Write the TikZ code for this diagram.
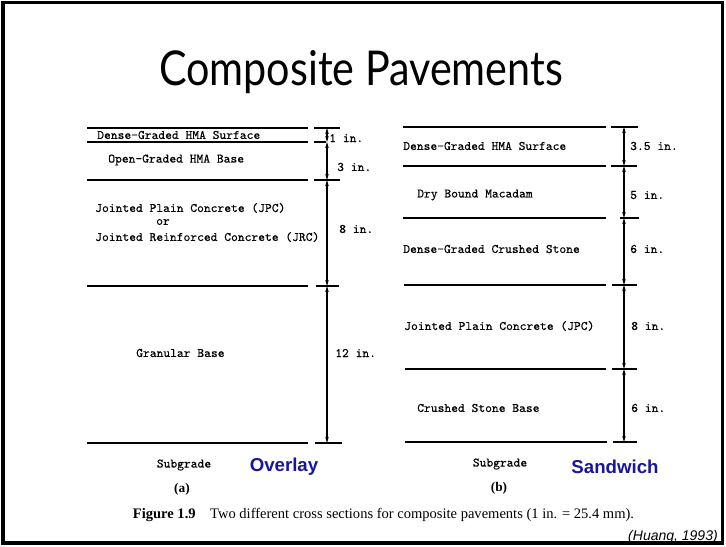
\documentclass[tikz,border=0pt]{standalone}
\usepackage{fontspec}
\setmainfont{Liberation Serif}
\setsansfont{Liberation Sans}
\newfontfamily\titlefont{Lato}
\newfontfamily\typewr{lmmono10-regular.otf}[FakeBold=0.35]
\usepackage{tikz}
\usetikzlibrary{arrows.meta}
\definecolor{slideblue}{RGB}{22,22,158}
\tikzset{
      layer/.style   = {line width=1.6pt},                 % layer boundary
      tick/.style    = {line width=0.9pt},                 % dimension tick
      dim/.style     = {line width=0.8pt,
                        {Stealth[length=4.5pt,width=2.6pt]}-{Stealth[length=4.5pt,width=2.6pt]}},
      label/.style   = {font=\typewr\fontsize{9.7}{11}\selectfont, inner sep=0pt},
      tag/.style     = {font=\sffamily\bfseries\fontsize{14}{16}\selectfont, slideblue, inner sep=0pt},
      part/.style    = {font=\bfseries\fontsize{10}{12}\selectfont, inner sep=0pt}
    }

\begin{document}
\begin{tikzpicture}[x=0.75pt, y=-0.75pt]
  \useasboundingbox (0,0) rectangle (726,547);
  % Slide frame
  \draw[line width=2.6pt] (3,2.5) rectangle (722.5,543);
  \draw[line width=3.6pt] (3,543) -- (722.5,543);
  % Title
  \node[font=\titlefont\fontsize{36}{40}\selectfont, xscale=0.86] (title) at (361,72) {Composite Pavements};

  % (a) Overlay - layer boundaries
  \draw[layer] (87,128) -- (308,128);
  \draw[layer] (87,142) -- (308,142);
  \draw[layer] (87,180) -- (308,180);
  \draw[layer] (87,286) -- (308,286);
  \draw[layer] (87,443) -- (308,443);
  % (a) Overlay - ticks
  \draw[tick] (314,128) -- (340,128);
  \draw[tick] (314,142) -- (326,142);
  \draw[tick] (314,180) -- (340,180);
  \draw[tick] (316,286) -- (339,286);
  \draw[tick] (315,443) -- (342,443);
  % (a) Overlay - dimension line
  \coordinate (a0) at (327,128);
  \coordinate (a1) at (327,142);
  \coordinate (a2) at (327,180);
  \coordinate (a3) at (327,286);
  \coordinate (a4) at (327,443);
  \draw[dim] (a0) -- (a1);
  \draw[dim] (a1) -- (a2);
  \draw[dim] (a2) -- (a3);
  \draw[dim] (a3) -- (a4);
  % (a) Overlay - labels
  \node[label, anchor=west] (surfA) at (97,135) {Dense-Graded HMA Surface};
  \node[label, anchor=west] (openA) at (108,160) {Open-Graded HMA Base};
  \node[label, anchor=west] (jpcA)  at (95,208) {Jointed Plain Concrete (JPC)};
  \node[label]              (orA)   at (163,222) {or};
  \node[label, anchor=west] (jrcA)  at (95,237) {Jointed Reinforced Concrete (JRC)};
  \node[label, anchor=west] (granA) at (136,353) {Granular Base};
  \node[label, anchor=west] (oneA)   at (329,138) {1 in.};
  \node[label, anchor=west] (threeA) at (337,167) {3 in.};
  \node[label, anchor=west] (eightA) at (339,229) {8 in.};
  \node[label, anchor=west] (twlvA)  at (335,353) {12 in.};
  \node[label] (subA)   at (184,465) {Subgrade};
  \node[tag]   (ovrlay) at (284,467) {Overlay};
  \node[part]  (partA)  at (182,489) {(a)};

  % (b) Sandwich - layer boundaries
  \draw[layer] (403,127) -- (606,127);
  \draw[layer] (403,166) -- (606,166);
  \draw[layer] (403,218) -- (606,218);
  \draw[layer] (404,285) -- (606,285);
  \draw[layer] (405,369) -- (606,369);
  \draw[layer] (405,442) -- (607,442);
  % (b) Sandwich - ticks
  \draw[tick] (611,127) -- (638,127);
  \draw[tick] (611,166) -- (637,166);
  \draw[tick] (620,218) -- (639,218);
  \draw[tick] (612,285) -- (637,285);
  \draw[tick] (612,369) -- (637,369);
  \draw[tick] (613,442) -- (637,442);
  % (b) Sandwich - dimension line
  \coordinate (b0) at (624,127);
  \coordinate (b1) at (624,166);
  \coordinate (b2) at (624,218);
  \coordinate (b3) at (624,285);
  \coordinate (b4) at (624,369);
  \coordinate (b5) at (624,442);
  \draw[dim] (b0) -- (b1);
  \draw[dim] (b1) -- (b2);
  \draw[dim] (b2) -- (b3);
  \draw[dim] (b3) -- (b4);
  \draw[dim] (b4) -- (b5);
  % (b) Sandwich - labels
  \node[label, anchor=west] (surfB)  at (403,146) {Dense-Graded HMA Surface};
  \node[label, anchor=west] (dryB)   at (417,195) {Dry Bound Macadam};
  \node[label, anchor=west] (crshB)  at (403,249) {Dense-Graded Crushed Stone};
  \node[label, anchor=west] (jpcB)   at (404,326) {Jointed Plain Concrete (JPC)};
  \node[label, anchor=west] (baseB)  at (417,408) {Crushed Stone Base};
  \node[label, anchor=west] (thrpB)  at (630,146) {3.5 in.};
  \node[label, anchor=west] (fiveB)  at (630,195) {5 in.};
  \node[label, anchor=west] (sixB)   at (630,249) {6 in.};
  \node[label, anchor=west] (eightB) at (631,326) {8 in.};
  \node[label, anchor=west] (sixBB)  at (631,408) {6 in.};
  \node[label] (subB)  at (500,464) {Subgrade};
  \node[tag]   (sndwch) at (615,467) {Sandwich};
  \node[part]  (partB) at (499,488) {(b)};

  % Caption and source
  \node[font=\fontsize{10.9}{13}\selectfont, inner sep=0pt] (caption) at (383.5,515)
    {\textbf{Figure 1.9}\quad Two different cross sections for composite pavements (1 in. = 25.4 mm).};
  \node[font=\sffamily\itshape\fontsize{10.5}{12}\selectfont, anchor=east, inner sep=0pt] (source) at (718,537) {(Huang, 1993)};
\end{tikzpicture}
\end{document}
